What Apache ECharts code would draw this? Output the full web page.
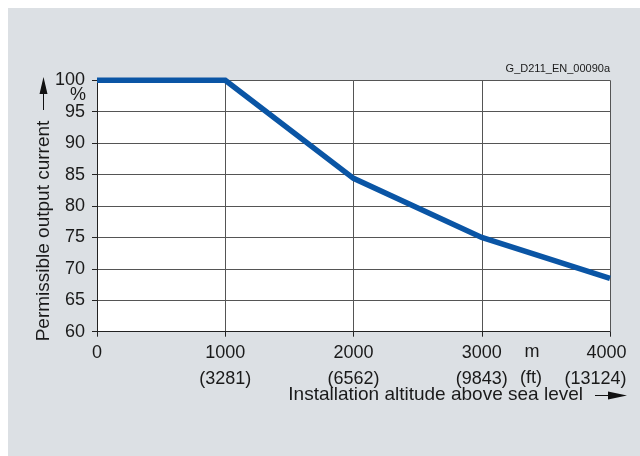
<!DOCTYPE html>
<html>
<head>
<meta charset="utf-8">
<script src="https://cdn.jsdelivr.net/npm/echarts@6/dist/echarts.min.js"></script>
<style>
html,body{margin:0;padding:0;background:#fff;}
#chart{width:640px;height:456px;}
</style>
</head>
<body>
<div id="chart"></div>
<script>
// Data
const altitudeM = [0, 1000, 2000, 3000, 4000];
const permissibleCurrent = [100, 100, 84.4, 75, 68.5];
const xTickM = ['0', '1000', '2000', '3000', '4000'];
const xTickFt = ['', '(3281)', '(6562)', '(9843)', '(13124)'];
const yTicks = [60, 65, 70, 75, 80, 85, 90, 95, 100];
const yTitle = 'Permissible output current';
const xTitle = 'Installation altitude above sea level';
const docId = 'G_D211_EN_00090a';

const FONT = '"Liberation Sans", Arial, sans-serif';
const TXT = '#1a1a1a';

const chart = echarts.init(document.getElementById('chart'), null, {renderer: 'canvas'});

const seriesData = altitudeM.map((x, i) => [x, permissibleCurrent[i]]);

const option = {
  animation: false,
  backgroundColor: '#ffffff',
  grid: {
    left: 97, right: 30, top: 80.3, bottom: 124.3,
    outerBoundsMode: 'none',
    show: true, backgroundColor: '#ffffff', borderWidth: 0
  },
  xAxis: {
    type: 'value', min: 0, max: 4000, interval: 1000,
    axisLine: {show: true, lineStyle: {color: '#222', width: 1}},
    axisTick: {show: true, length: 5, lineStyle: {color: '#222'}},
    splitLine: {show: true, lineStyle: {color: '#555', width: 1}},
    axisLabel: {
      margin: 8,
      formatter: function (v) {
        const i = altitudeM.indexOf(v);
        if (i < 0) return '';
        const m = xTickM[i], ft = xTickFt[i];
        if (i === altitudeM.length - 1) return '{r|' + m + '}\n{r|' + ft + '}';
        if (!ft) return '{c|' + m + '}';
        return '{c|' + m + '}\n{c|' + ft + '}';
      },
      rich: {
        c: {fontSize: 18, lineHeight: 26, color: TXT, fontFamily: FONT},
        r: {fontSize: 18, lineHeight: 26, color: TXT, fontFamily: FONT, align: 'right', padding: [0, 29, 0, 0]}
      }
    }
  },
  yAxis: {
    type: 'value', min: 60, max: 100, interval: 5,
    axisLine: {show: true, lineStyle: {color: '#222', width: 1}},
    axisTick: {show: true, length: 5, lineStyle: {color: '#222'}},
    splitLine: {show: true, lineStyle: {color: '#555', width: 1}},
    axisLabel: {
      margin: 12, fontSize: 18, color: TXT, fontFamily: FONT,
      formatter: function (v) { return yTicks.indexOf(v) >= 0 ? String(v) : ''; }
    }
  },
  series: [{
    type: 'line',
    data: seriesData,
    showSymbol: false,
    clip: false,
    lineStyle: {color: '#0a55a5', width: 5.5, cap: 'butt', join: 'miter'},
    z: 5
  }],
  graphic: [
    {type: 'rect', z: -10, silent: true, shape: {x: 8, y: 8, width: 632, height: 448}, style: {fill: '#dce0e4'}},
    {type: 'text', left: null, x: 610, y: 69, style: {text: docId, fontSize: 11, fill: TXT, fontFamily: FONT, align: 'right', verticalAlign: 'middle'}},
    {type: 'text', x: 78, y: 95, style: {text: '%', fontSize: 18, fill: TXT, fontFamily: FONT, align: 'center', verticalAlign: 'middle'}},
    {type: 'text', x: 532, y: 352, style: {text: 'm', fontSize: 18, fill: TXT, fontFamily: FONT, align: 'center', verticalAlign: 'middle'}},
    {type: 'text', x: 531, y: 378, style: {text: '(ft)', fontSize: 18, fill: TXT, fontFamily: FONT, align: 'center', verticalAlign: 'middle'}},
    {type: 'text', x: 43.5, y: 231, rotation: Math.PI / 2, style: {text: yTitle, fontSize: 19, fill: TXT, fontFamily: FONT, align: 'center', verticalAlign: 'middle'}},
    {type: 'text', x: 583, y: 395, style: {text: xTitle, fontSize: 19, fill: TXT, fontFamily: FONT, align: 'right', verticalAlign: 'middle'}},
    // y arrow
    {type: 'line', shape: {x1: 43.5, y1: 110, x2: 43.5, y2: 90}, style: {stroke: '#111', lineWidth: 1}},
    {type: 'polygon', shape: {points: [[43.5, 77], [39.5, 94], [47.5, 94]]}, style: {fill: '#111'}},
    // x arrow
    {type: 'line', shape: {x1: 595, y1: 395.5, x2: 612, y2: 395.5}, style: {stroke: '#111', lineWidth: 1}},
    {type: 'polygon', shape: {points: [[627, 395.5], [608, 391.5], [608, 399.5]]}, style: {fill: '#111'}}
  ]
};

chart.setOption(option);
</script>
</body>
</html>
